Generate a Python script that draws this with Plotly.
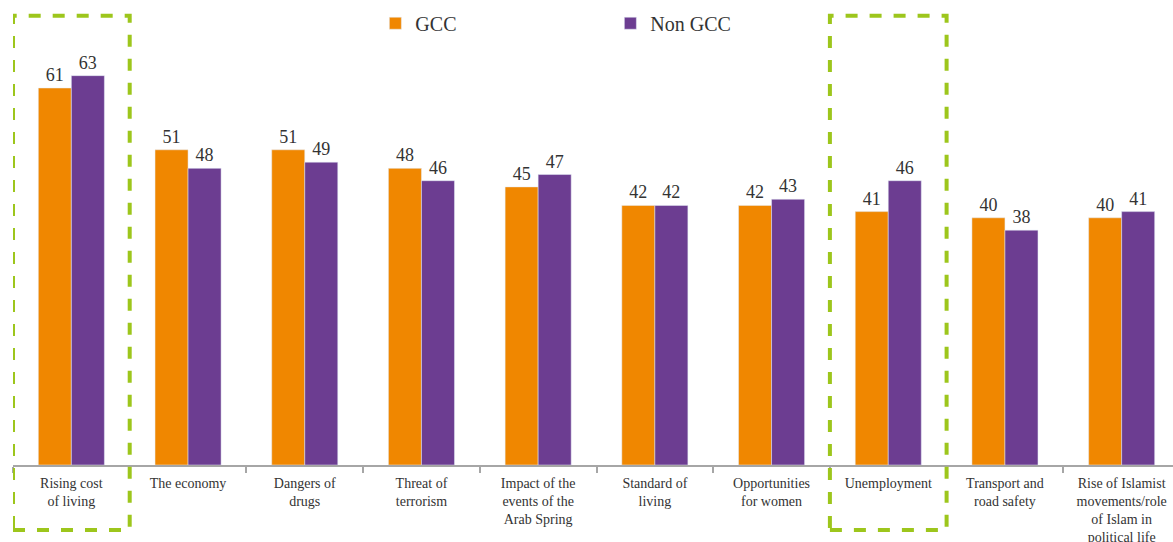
import plotly.graph_objects as go

categories = [
    "Rising cost<br>of living", "The economy", "Dangers of<br>drugs", "Threat of<br>terrorism",
    "Impact of the<br>events of the<br>Arab Spring", "Standard of<br>living", "Opportunities<br>for women",
    "Unemployment", "Transport and<br>road safety",
    "Rise of Islamist<br>movements/role<br>of Islam in<br>political life",
]
gcc = [61, 51, 51, 48, 45, 42, 42, 41, 40, 40]
non_gcc = [63, 48, 49, 46, 47, 42, 43, 46, 38, 41]
highlight = [0, 7]

FONT = "Liberation Serif"
ORANGE = "#F08700"
PURPLE = "#6C3D91"
GREEN = "#9DC61C"

fig = go.Figure()
fig.add_trace(go.Bar(x=categories, y=gcc, name="GCC", marker_color=ORANGE,
                     text=gcc, textposition="outside", cliponaxis=False,
                     textfont=dict(size=18, color="#333333", family=FONT)))
fig.add_trace(go.Bar(x=categories, y=non_gcc, name="Non GCC", marker_color=PURPLE,
                     text=non_gcc, textposition="outside", cliponaxis=False,
                     textfont=dict(size=18, color="#333333", family=FONT)))

for i in highlight:
    fig.add_shape(type="rect", xref="x", yref="paper", x0=i - 0.5, x1=i + 0.5,
                  y0=-0.14, y1=0.966, line=dict(color=GREEN, width=4, dash="dash"),
                  fillcolor="rgba(0,0,0,0)", layer="above")

fig.update_layout(
    width=1173, height=542,
    margin=dict(l=13, r=0, t=0, b=77, autoexpand=False),
    paper_bgcolor="white", plot_bgcolor="white",
    barmode="group", bargap=0.434, bargroupgap=0,
    font=dict(family=FONT, color="#333333"),
    showlegend=True,
    legend=dict(orientation="h", xref="container", yref="paper", x=0.32, y=0.992,
                xanchor="left", yanchor="top", font=dict(size=20, family=FONT, color="#333333"),
                entrywidth=190, entrywidthmode="pixels", bgcolor="rgba(0,0,0,0)"),
    xaxis=dict(range=[-0.5, 9.44], showline=True, linecolor="#A6A6A6", linewidth=2,
               ticks="outside", tickson="boundaries", ticklen=6, tickcolor="#A6A6A6",
               tickwidth=2, tickfont=dict(size=14, family=FONT, color="#333333"),
               ticklabelstandoff=4, automargin=False,
               showgrid=False, tickangle=0),
    yaxis=dict(range=[0, 75.24], visible=False, showgrid=False),
)

fig.write_html("out.html")
